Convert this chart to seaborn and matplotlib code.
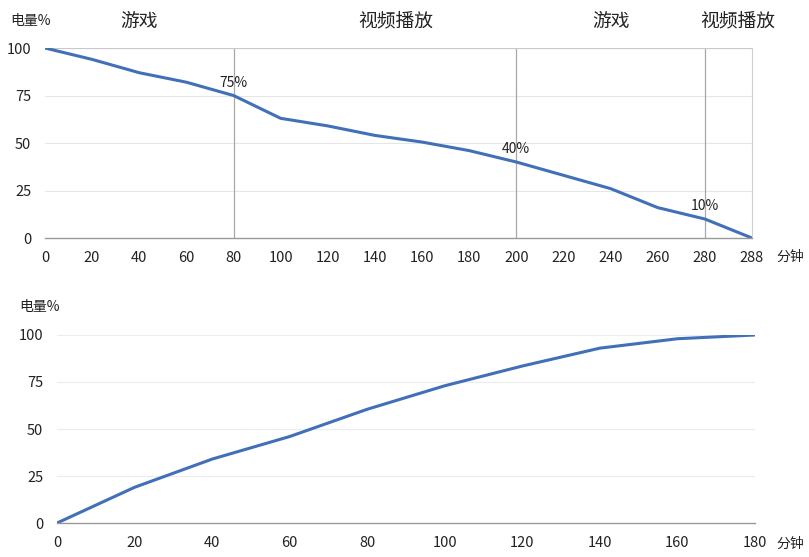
import matplotlib
matplotlib.use("Agg")
import matplotlib.pyplot as plt
import seaborn as sns
import pandas as pd

# ---- data ----
discharge_minutes = ["0", "20", "40", "60", "80", "100", "120", "140", "160",
                     "180", "200", "220", "240", "260", "280", "288"]
discharge_level = [100, 94, 87, 82, 75, 63, 59, 54, 50.5, 46, 40, 33, 26, 16, 10, 0]
marked_points = ["80", "200", "280"]
marked_labels = ["75%", "40%", "10%"]
phase_labels = ["游戏", "视频播放", "游戏", "视频播放"]

charge_minutes = [0, 20, 40, 60, 80, 100, 120, 140, 160, 180]
charge_level = [0, 19, 34, 46, 60.5, 73, 83.5, 93, 98, 100]
y_ticks = [0, 25, 50, 75, 100]

sns.set_theme(style="white")
plt.rcParams['font.family'] = ['Noto Sans CJK SC', 'DejaVu Sans']

LINE = "#4170b8"
TXT = "#222222"

fig = plt.figure(figsize=(8.09, 5.57), dpi=100)
ax1 = fig.add_axes([0.0556, 0.5727, 0.9295 - 0.0556, 0.9138 - 0.5727])
ax2 = fig.add_axes([0.0705, 0.061, 0.9333 - 0.0705, 0.3986 - 0.061])

# ---- top chart ----
df1 = pd.DataFrame({"min": discharge_minutes, "lvl": discharge_level})
sns.lineplot(data=df1, x="min", y="lvl", ax=ax1, color=LINE, linewidth=2.2, sort=False)
n = len(discharge_minutes)
ax1.set_xlim(0, n - 1)
ax1.set_ylim(0, 100)
ax1.set_yticks(y_ticks)
ax1.set_xticks(range(n))
ax1.set_xticklabels(discharge_minutes)
for y in y_ticks[1:]:
    ax1.axhline(y, color="#e6e6e6", linewidth=0.8, zorder=0)
for p, lab in zip(marked_points, marked_labels):
    i = discharge_minutes.index(p)
    ax1.axvline(i, color="#a8a8a8", linewidth=0.9, zorder=0)
    ax1.annotate(lab, (i, discharge_level[i]), xytext=(0, 4), textcoords="offset points",
                 ha="center", va="bottom", fontsize=10, color=TXT)
phase_x = [2.0, 7.45, 12.0, 14.7]
for x, lab in zip(phase_x, phase_labels):
    ax1.text(x, 1.14, lab, transform=ax1.get_xaxis_transform(), ha="center", va="center",
             fontsize=13.5, color=TXT)
ax1.text(-0.02, 1.14, "电量%", transform=ax1.transAxes, ha="center", va="center",
         fontsize=10, color=TXT)
ax1.text(1.054, -0.1, "分钟", transform=ax1.transAxes, ha="center", va="center",
         fontsize=10, color=TXT)

# ---- bottom chart ----
df2 = pd.DataFrame({"min": charge_minutes, "lvl": charge_level})
sns.lineplot(data=df2, x="min", y="lvl", ax=ax2, color=LINE, linewidth=2.2)
ax2.set_xlim(0, 180)
ax2.set_ylim(0, 100)
ax2.set_xticks(charge_minutes)
ax2.set_yticks(y_ticks)
for y in y_ticks[1:]:
    ax2.axhline(y, color="#ececec", linewidth=0.8, zorder=0)
ax2.text(-0.025, 1.15, "电量%", transform=ax2.transAxes, ha="center", va="center",
         fontsize=10, color=TXT)
ax2.text(1.05, -0.11, "分钟", transform=ax2.transAxes, ha="center", va="center",
         fontsize=10, color=TXT)

for ax in (ax1, ax2):
    ax.set_xlabel("")
    ax.set_ylabel("")
    ax.grid(False)
    for s in ("left", "top"):
        ax.spines[s].set_visible(False)
    ax.spines["bottom"].set_color("#999999")
    ax.spines["bottom"].set_linewidth(1.0)
    ax.tick_params(axis="both", which="both", length=0, labelsize=10.5, colors=TXT, pad=9)
    ax.tick_params(axis="y", pad=10)
ax1.spines["right"].set_color("#d0d0d0")
ax1.spines["right"].set_linewidth(0.8)
ax2.spines["right"].set_visible(False)
ax1.axhline(100, color="#c8c8c8", linewidth=0.8, zorder=0)

fig.savefig("out.png", dpi=100, facecolor="white")
